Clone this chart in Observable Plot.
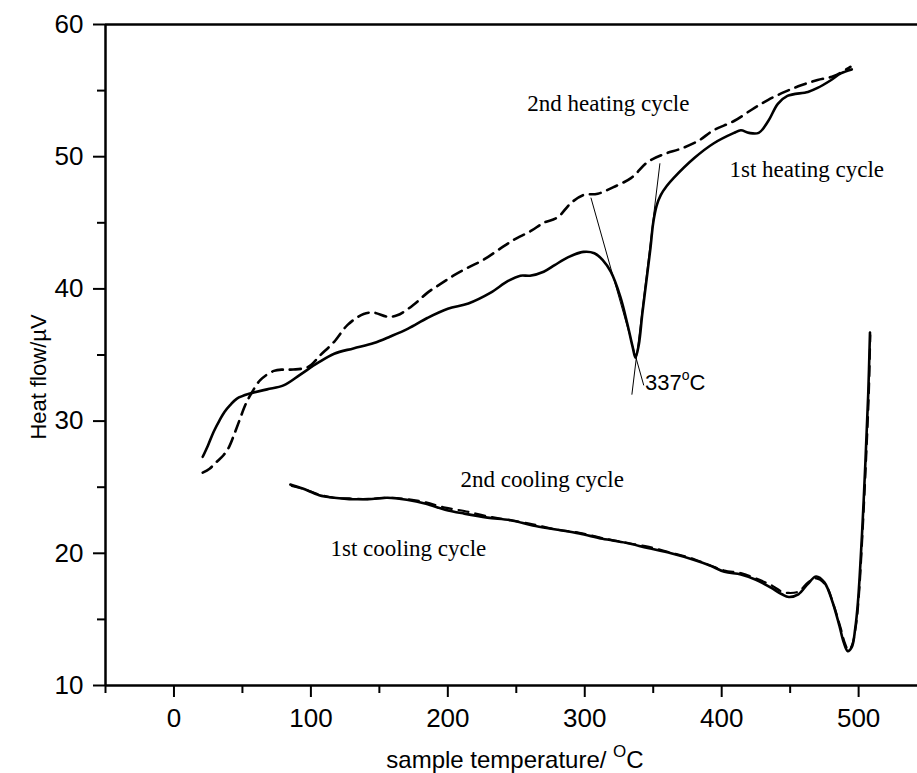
<!DOCTYPE html>
<html><head><meta charset="utf-8">
<script src="https://cdn.jsdelivr.net/npm/d3@7"></script>
<script src="https://cdn.jsdelivr.net/npm/@observablehq/plot@0.6"></script>
<style>body{margin:0;background:#fff} #chart svg{display:block}</style>
</head><body><div id="chart"></div>
<script>
// 1st heating cycle (solid)
const heat1T = [21,25,29,33,37,41,46,56,68,80,92,105,117,131,146,158,171,185,200,215,231,244,253,260,270,278,288,299,307,313,319,326,331,335,337,339.5,342,345,348,350,352.5,355.5,360,365,380,394,409,414,420,427,434,441,448,463,470,480,487,495];
const heat1V = [27.3,28.2,29.2,30.0,30.7,31.2,31.7,32.1,32.4,32.7,33.5,34.4,35.1,35.5,35.9,36.4,37.0,37.8,38.5,38.9,39.7,40.6,41.0,41.0,41.3,41.8,42.4,42.8,42.7,42.2,41.3,39.4,37.4,35.6,34.8,35.8,38.1,40.6,43.1,45.0,46.3,47.1,47.8,48.4,49.9,51.0,51.8,52.0,51.8,51.8,52.7,54.0,54.6,54.9,55.2,55.8,56.3,56.6];
// 2nd heating cycle (dashed)
const heat2T = [21,26,31,36,40,44,48,52,56,63,73,80,87,98,107,117,127,138.5,146,156,163,175,185,195,204,214.5,226,239,248,261,270,280,290,299,309.5,321,334,346,358,370,383,394,409,424,434,446,458,470,482,494];
const heat2V = [26.1,26.4,26.9,27.4,28.0,29.0,30.1,31.2,32.0,33.1,33.8,33.9,33.9,34.1,35.0,36.0,37.3,38.1,38.2,37.9,38.0,38.8,39.7,40.4,41.0,41.6,42.2,43.1,43.7,44.4,45.0,45.4,46.5,47.1,47.2,47.7,48.4,49.6,50.2,50.6,51.2,52.0,52.7,53.7,54.3,54.9,55.4,55.8,56.1,56.8];
// 1st cooling cycle (solid)
const cool1T = [85,94,106,117,128,142,156,170,184,198,212,229,246,262,279,296,313,330,346,363,380,391,402,414,425,436,444,449,456,463,469,475,481,486,489,492,495,497.5,499.5,502.5,505,507,508.3];
const cool1V = [25.2,24.9,24.4,24.2,24.1,24.1,24.2,24.05,23.75,23.3,23.0,22.7,22.5,22.1,21.8,21.5,21.1,20.8,20.4,20.0,19.5,19.1,18.6,18.4,18.0,17.4,16.9,16.7,16.9,17.7,18.25,17.8,16.3,14.5,13.3,12.6,12.9,14.3,16.3,21.5,27.0,32.0,36.7];
// 2nd cooling cycle (dashed)
const cool2T = [86,95,106,117,128,142,156,170,184,198,212,229,246,262,279,296,313,330,346,363,380,391,402,414,425,436,444,449,456,463,469,476,482,487,490,492.5,495,498,500,503,505.5,507.5,508.5];
const cool2V = [25.1,24.85,24.45,24.2,24.15,24.1,24.2,24.1,23.85,23.45,23.2,22.8,22.5,22.2,21.8,21.55,21.15,20.8,20.5,20.05,19.55,19.1,18.7,18.5,18.1,17.6,17.1,17.0,17.1,17.8,18.1,17.6,16.0,14.3,13.2,12.7,13.0,14.5,16.5,21.8,27.2,32.2,36.5];

const xMajorTicks = [0,100,200,300,400,500];
const xMinorTicks = [-50,50,150,250,350,450];
const yMajorTicks = [10,20,30,40,50,60];
const yMinorTicks = [15,25,35,45,55];

const curveLabelText = ["2nd heating cycle","1st heating cycle","2nd cooling cycle","1st cooling cycle"];
const curveLabelT = [258,405.7,209.2,114.3];
const curveLabelV = [54.05,48.99,25.54,20.39];

const tangentT1 = [304.5,354.9];
const tangentV1 = [46.9,49.5];
const tangentT2 = [343.1,334.4];
const tangentV2 = [32.7,32.0];

const peakLabelT = 344.3, peakLabelV = 32.9, peakLabelValue = "337";

const toRows = (T, V) => T.map((t, i) => ({T: t, V: V[i]}));
const heat1 = toRows(heat1T, heat1V);
const heat2 = toRows(heat2T, heat2V);
const cool1 = toRows(cool1T, cool1V);
const cool2 = toRows(cool2T, cool2V);
const labels = curveLabelText.map((t, i) => ({text: t, T: curveLabelT[i], V: curveLabelV[i]}));
const tangents = tangentT1.map((t, i) => ({T1: t, V1: tangentV1[i], T2: tangentT2[i], V2: tangentV2[i]}));

const sans = "Liberation Sans, Arial, sans-serif";
const serif = "Liberation Serif, Times New Roman, serif";

const chart = Plot.plot({
  width: 917, height: 773,
  marginLeft: 105, marginRight: 0, marginTop: 24, marginBottom: 88,
  x: {domain: [-50, 543]},
  y: {domain: [10, 60]},
  style: {background: "white", color: "black", fontFamily: sans},
  marks: [
    Plot.axisX({ticks: xMajorTicks, tickSize: 12, tickPadding: 11, fontSize: 26, label: null, strokeWidth: 2, fontFamily: sans}),
    Plot.axisX({ticks: xMinorTicks, tickSize: 8, text: null, label: null, strokeWidth: 2}),
    Plot.axisY({ticks: yMajorTicks, tickSize: 12, tickPadding: 10, fontSize: 26, label: null, strokeWidth: 2, fontFamily: sans}),
    Plot.axisY({ticks: yMinorTicks, tickSize: 8, text: null, label: null, strokeWidth: 2}),
    Plot.ruleY([10], {strokeWidth: 2.5}),
    Plot.ruleY([60], {strokeWidth: 2.5}),
    Plot.ruleX([-50], {strokeWidth: 2.5}),
    Plot.line(heat1, {x: "T", y: "V", curve: "catmull-rom", stroke: "black", strokeWidth: 2.6}),
    Plot.line(heat2, {x: "T", y: "V", curve: "catmull-rom", stroke: "black", strokeWidth: 2.6, strokeDasharray: "11,7"}),
    Plot.line(cool1, {x: "T", y: "V", curve: "catmull-rom", stroke: "black", strokeWidth: 2.6}),
    Plot.line(cool2, {x: "T", y: "V", curve: "catmull-rom", stroke: "black", strokeWidth: 2.2, strokeDasharray: "10,7"}),
    Plot.link(tangents, {x1: "T1", y1: "V1", x2: "T2", y2: "V2", stroke: "black", strokeWidth: 1}),
    Plot.text(labels, {x: "T", y: "V", text: "text", textAnchor: "start", fontFamily: serif, fontSize: 23, fill: "black"})
  ]
});
document.getElementById("chart").append(chart);

const svg = d3.select(chart);
const sx = chart.scale("x"), sy = chart.scale("y");

// peak annotation with superscript
const pk = svg.append("text")
  .attr("x", sx.apply(peakLabelT)).attr("y", sy.apply(peakLabelV) + 8)
  .attr("text-anchor", "start")
  .attr("font-family", sans).attr("font-size", 22).attr("fill", "black");
pk.append("tspan").text(peakLabelValue);
pk.append("tspan").attr("font-size", 14).attr("dy", -10).text("o");
pk.append("tspan").attr("dy", 10).text("C");

// x axis title
const xt = svg.append("text")
  .attr("x", 515).attr("y", 768).attr("text-anchor", "middle")
  .attr("font-family", sans).attr("font-size", 24).attr("fill", "black");
xt.append("tspan").text("sample temperature/ ");
xt.append("tspan").attr("font-size", 17).attr("dy", -11).text("O");
xt.append("tspan").attr("dy", 11).text("C");

// y axis title
svg.append("text")
  .attr("transform", "translate(40,377) rotate(-90)")
  .attr("text-anchor", "middle").attr("dominant-baseline", "middle")
  .attr("font-family", sans).attr("font-size", 22).attr("fill", "black")
  .text("Heat flow/\u00B5V");
</script>
</body></html>
